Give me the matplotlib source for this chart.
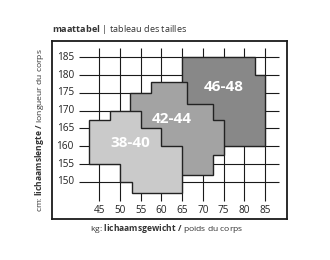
import matplotlib
matplotlib.use("Agg")
import matplotlib.pyplot as plt

# ── data ──
WEIGHT_TICKS = [45, 50, 55, 60, 65, 70, 75, 80, 85]
HEIGHT_TICKS = [150, 155, 160, 165, 170, 175, 180, 185]

SIZE_LABELS = ["46-48", "42-44", "38-40"]
# polygon outlines (kg, cm), drawn back to front
KG_46 = [65, 82.5, 82.5, 85, 85, 65]
CM_46 = [185, 185, 180, 180, 160, 160]
KG_42 = [52.5, 57.5, 57.5, 66.25, 66.25, 72.5, 72.5, 75, 75, 72.5, 72.5, 52.5]
CM_42 = [175, 175, 178, 178, 172, 172, 167.5, 167.5, 157.5, 157.5, 152, 152]
KG_38 = [42.5, 47.5, 47.5, 55, 55, 60, 60, 65, 65, 53, 53, 50, 50, 42.5]
CM_38 = [167.5, 167.5, 170, 170, 165, 165, 160, 160, 147, 147, 150, 150, 155, 155]
LABEL_KG = [75.1, 62.6, 52.5]
LABEL_CM = [176.6, 167.6, 160.9]

COLORS = ["#888888", "#a3a3a3", "#cacaca"]

plt.rcParams["font.family"] = ["Open Sans", "DejaVu Sans"]
plt.rcParams["mathtext.fontset"] = "custom"
plt.rcParams["mathtext.rm"] = "Open Sans"
plt.rcParams["mathtext.bf"] = "Open Sans:bold"

fig = plt.figure(figsize=(3.3, 2.6), dpi=100)
ax = fig.add_axes([0.158, 0.158, 0.712, 0.685])
ax.set_xlim(33.67, 90.3)
ax.set_ylim(139.6, 189.6)

# grid
ax.hlines(HEIGHT_TICKS, 40.2, 88.4, color="#1a1a1a", lw=0.8, zorder=1)
ax.vlines(WEIGHT_TICKS, 144.7, 187.7, color="#1a1a1a", lw=0.8, zorder=1)

for kg, cm, col in zip([KG_46, KG_42, KG_38], [CM_46, CM_42, CM_38], COLORS):
    ax.fill(kg, cm, facecolor=col, edgecolor="#222222", lw=1.0, zorder=2)

for lab, x, y in zip(SIZE_LABELS, LABEL_KG, LABEL_CM):
    ax.text(x, y, lab, color="white", fontsize=11, fontweight="bold",
            ha="center", va="center", zorder=3)

# tick labels
for w in WEIGHT_TICKS:
    ax.text(w, 142, str(w), fontsize=7.2, color="#222", ha="center", va="center")
for h in HEIGHT_TICKS:
    ax.text(38.9, h, str(h), fontsize=7.2, color="#222", ha="right", va="center")

ax.set_xticks([])
ax.set_yticks([])
for s in ax.spines.values():
    s.set_linewidth(1.3)
    s.set_color("#1a1a1a")

fig.text(0.158, 0.86, r"$\bf{maattabel}$ | tableau des tailles", fontsize=6.6,
         color="#333", ha="left", va="bottom")
fig.text(0.506, 0.122, r"kg: $\bf{lichaamsgewicht\ /}$ poids du corps", fontsize=6.1,
         color="#333", ha="center", va="center")
fig.text(0.12, 0.5, r"cm: $\bf{lichaamslengte\ /}$ longueur du corps", fontsize=6.1,
         color="#333", ha="center", va="center", rotation=90)

fig.savefig("out.png", dpi=100)
